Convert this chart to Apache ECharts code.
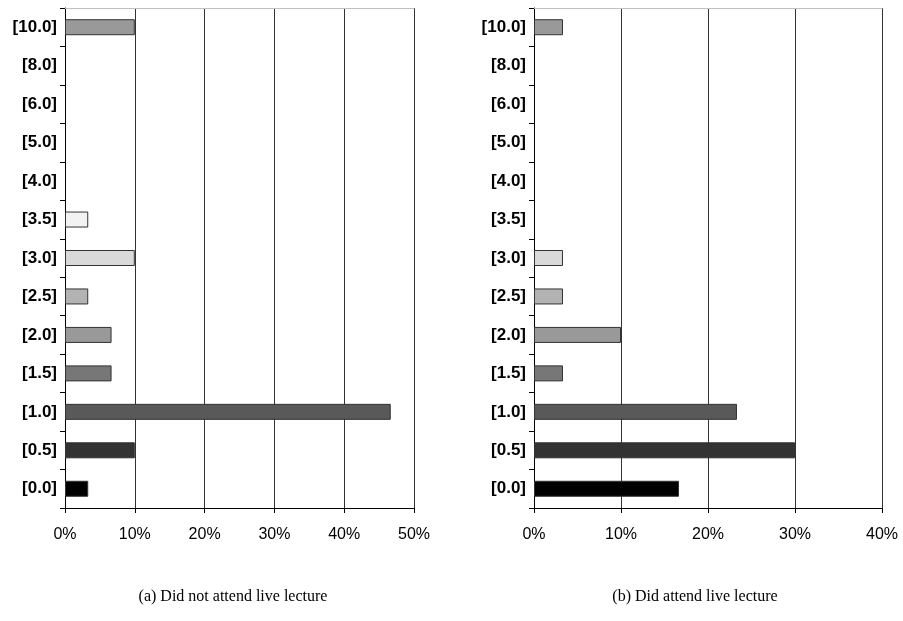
<!DOCTYPE html>
<html>
<head>
<meta charset="utf-8">
<script src="https://cdn.jsdelivr.net/npm/echarts@6/dist/echarts.min.js"></script>
<style>
  html, body { margin: 0; padding: 0; background: #fff; }
  #chart { width: 903px; height: 621px; }
</style>
</head>
<body>
<div id="chart"></div>
<script>
// Score categories, bottom to top
const categories = ['[0.0]', '[0.5]', '[1.0]', '[1.5]', '[2.0]', '[2.5]', '[3.0]', '[3.5]', '[4.0]', '[5.0]', '[6.0]', '[8.0]', '[10.0]'];

// Share of students (%) per score
const notAttended = [3.33, 10, 46.67, 6.67, 6.67, 3.33, 10, 3.33, 0, 0, 0, 0, 10];
const attended = [16.67, 30, 23.33, 3.33, 10, 3.33, 3.33, 0, 0, 0, 0, 0, 3.33];

// Grey shade of each score category
const shades = ['#000000', '#333333', '#595959', '#777777', '#999999', '#b3b3b3', '#d9d9d9', '#f2f2f2', '#cccccc', '#cccccc', '#cccccc', '#cccccc', '#999999'];

const xTicksLeft = { max: 50, interval: 10 };
const xTicksRight = { max: 40, interval: 10 };

const captions = ['(a) Did not attend live lecture', '(b) Did attend live lecture'];

const FONT = '"Liberation Sans", Arial, sans-serif';
const SERIF = '"Liberation Serif", "Times New Roman", serif';

function barData(values) {
  return values.map((v, i) => ({
    value: v,
    itemStyle: { color: shades[i], borderColor: '#333', borderWidth: v === 0 ? 0 : 1 }
  }));
}

function valueAxis(gridIndex, ticks) {
  return {
    type: 'value', gridIndex, min: 0, max: ticks.max, interval: ticks.interval,
    axisLine: { show: true, lineStyle: { color: '#000', width: 1 } },
    axisTick: { show: true, length: 5, lineStyle: { color: '#000' } },
    axisLabel: { formatter: '{value}%', color: '#000', fontFamily: FONT, fontSize: 16, margin: 19 },
    splitLine: { show: true, lineStyle: { color: '#333', width: 1 } }
  };
}

function topFrame(gridIndex, ticks) {
  return {
    type: 'value', gridIndex, position: 'top', min: 0, max: ticks.max,
    axisLine: { show: true, lineStyle: { color: '#c0c0c0', width: 1 } },
    axisTick: { show: false }, axisLabel: { show: false }, splitLine: { show: false }
  };
}

function categoryAxis(gridIndex) {
  return {
    type: 'category', gridIndex, data: categories,
    axisLine: { show: true, lineStyle: { color: '#000', width: 1 } },
    axisTick: { show: true, length: 5, alignWithLabel: false, lineStyle: { color: '#000' } },
    axisLabel: { color: '#000', fontFamily: FONT, fontSize: 17, fontWeight: 'bold', margin: 8 },
    splitLine: { show: false }
  };
}

const chart = echarts.init(document.getElementById('chart'), null, { renderer: 'canvas' });
chart.setOption({
  animation: false,
  backgroundColor: '#fff',
  grid: [
    { left: 65, right: 489, top: 8, bottom: 113 },
    { left: 534, right: 21, top: 8, bottom: 113 }
  ],
  xAxis: [valueAxis(0, xTicksLeft), valueAxis(1, xTicksRight), topFrame(0, xTicksLeft), topFrame(1, xTicksRight)],
  yAxis: [categoryAxis(0), categoryAxis(1)],
  series: [
    { type: 'bar', xAxisIndex: 0, yAxisIndex: 0, data: barData(notAttended), barWidth: 16 },
    { type: 'bar', xAxisIndex: 1, yAxisIndex: 1, data: barData(attended), barWidth: 16 }
  ],
  title: [
    { text: captions[0], left: 228, top: 584, textAlign: 'center',
      textStyle: { fontFamily: SERIF, fontWeight: 'normal', fontSize: 16, color: '#000' } },
    { text: captions[1], left: 690, top: 584, textAlign: 'center',
      textStyle: { fontFamily: SERIF, fontWeight: 'normal', fontSize: 16, color: '#000' } }
  ]
});
</script>
</body>
</html>
